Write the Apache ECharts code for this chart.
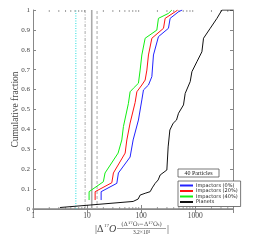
<!DOCTYPE html>
<html><head><meta charset="utf-8">
<script src="https://cdn.jsdelivr.net/npm/echarts@6/dist/echarts.min.js"></script>
<style>html,body{margin:0;padding:0;background:#fff}#c{width:258px;height:240px}</style>
</head><body><div id="c"></div>
<script>
// ---- data ----
const seriesNames = ["Impactors (0%)", "Impactors (20%)", "Impactors (40%)", "Planets"];
const blueX  = [18.2,18.2,35.5,38.0,62.5,71.1,89.1,103,110.4,136.6,157.8,169,209,320,344,491,574];
const blueY  = [0.045,0.087,0.129,0.181,0.261,0.347,0.447,0.548,0.598,0.623,0.665,0.774,0.866,0.908,0.958,0.991,1.0];
const redX   = [14.1,14.1,28.7,30.7,50.6,54.4,62.5,77.4,83.3,103,118.6,127.6,136.6,157.8,259,278,426,474];
const redY   = [0.045,0.087,0.132,0.181,0.281,0.347,0.432,0.535,0.589,0.623,0.648,0.698,0.774,0.858,0.908,0.958,0.991,1.0];
const greenX = [10.9,10.9,20.0,21.5,37.5,43.9,47.0,58.2,62.5,72.0,89.1,95.8,103,118.6,127.6,195,209,320,370];
const greenY = [0.045,0.087,0.137,0.181,0.281,0.347,0.414,0.531,0.589,0.607,0.632,0.698,0.774,0.858,0.866,0.899,0.958,0.983,1.0];
const planetX = [3.16,11.4,71.1,88,95.8,118.6,146.8,160,181.7,206.5,225,299,316,340,391,451,491,607,653,808,869,1074,1330,1425,1896,2524,3120,5000];
const planetY = [0.0075,0.020,0.038,0.050,0.070,0.079,0.087,0.106,0.129,0.146,0.171,0.196,0.312,0.397,0.431,0.447,0.481,0.523,0.581,0.640,0.690,0.740,0.790,0.858,0.908,0.958,1.0,1.0];
const refLineX = [6.2, 9.2, 12.2, 15.3];
const xTickLabels = [1, 10, 100, 1000];
const yTickLabels = [0,0.1,0.2,0.3,0.4,0.5,0.6,0.7,0.8,0.9,1];
const minorX = [2,3,4,5,6,7,8,9,20,30,40,50,60,70,80,90,200,300,400,500,600,700,800,900,2000,3000,4000];

const zip = (xs, ys) => xs.map((x, i) => [x, ys[i]]);
const serif = 'Liberation Serif';
const axisCol = '#888';
const textCol = '#444';

const chart = echarts.init(document.getElementById('c'), null, {renderer: 'canvas'});

const refStyles = [
  {color: '#22dddd', type: [1, 1.5], width: 1},
  {color: '#aaaaaa', type: [3, 1.5, 1, 1.5], width: 1},
  {color: '#aaaaaa', type: 'solid', width: 1.6},
  {color: '#aaaaaa', type: [3, 2], width: 1}
];
const refSeries = refLineX.map((v, i) => ({
  type: 'line', silent: true, symbol: 'none', animation: false,
  data: [[v, 0], [v, 1]], lineStyle: refStyles[i], z: 1
}));

function curve(name, xs, ys, color) {
  return {name, type: 'line', symbol: 'none', animation: false, data: zip(xs, ys),
    lineStyle: {color, width: 1}, itemStyle: {color}, z: 3};
}

const option = {
  animation: false,
  grid: {left: 33, top: 10, right: 25, bottom: 31, containLabel: false, outerBoundsMode: 'none'},
  xAxis: [
    {type: 'log', logBase: 10, min: 1, max: 5000, position: 'bottom',
     axisLine: {show: true, lineStyle: {color: axisCol, width: 1}},
     axisTick: {show: true, inside: true, length: 4, lineStyle: {color: axisCol}},
     splitLine: {show: false},
     axisLabel: {fontFamily: serif, fontSize: 7.5, color: textCol, margin: 3, showMinLabel: true,
       formatter: v => xTickLabels.includes(Math.round(v)) ? String(Math.round(v)) : ''}},
    {type: 'log', logBase: 10, min: 1, max: 5000, position: 'top',
     axisLine: {show: true, lineStyle: {color: axisCol, width: 1.5}},
     axisTick: {show: true, inside: true, length: 4, lineStyle: {color: axisCol}},
     splitLine: {show: false}, axisLabel: {show: false}}
  ],
  yAxis: [
    {type: 'value', min: 0, max: 1, interval: 0.1, position: 'left',
     axisLine: {show: true, lineStyle: {color: axisCol}},
     axisTick: {show: true, inside: true, length: 3, lineStyle: {color: axisCol}},
     splitLine: {show: false},
     axisLabel: {fontFamily: serif, fontSize: 7, color: textCol, margin: 3,
       formatter: v => String(yTickLabels.find(t => Math.abs(t - v) < 1e-6) ?? v)},
     name: 'Cumulative fraction', nameLocation: 'middle', nameGap: 12.5, nameMoveOverlap: false,
     nameTextStyle: {fontFamily: serif, fontSize: 9.5, color: textCol}},
    {type: 'value', min: 0, max: 1, interval: 0.1, position: 'right',
     axisLine: {show: true, lineStyle: {color: axisCol}},
     axisTick: {show: true, inside: true, length: 3, lineStyle: {color: axisCol}},
     splitLine: {show: false}, axisLabel: {show: false}}
  ],
  legend: {
    data: seriesNames, orient: 'vertical', left: 178, top: 181,
    itemWidth: 13, itemHeight: 2, itemGap: 0.5, icon: 'rect',
    padding: [2, 3, 2, 2], borderColor: '#555', borderWidth: 0.8, backgroundColor: '#fff',
    textStyle: {fontSize: 5, color: '#222', fontFamily: 'DejaVu Sans', padding: [0, 0, 0, -2]}
  },
  series: [
    ...refSeries,
    {type: 'custom', silent: true, animation: false, data: minorX.map(v => [v]),
     renderItem: (params, api) => {
       const v = api.value(0);
       const p0 = api.coord([v, 0]);
       const p1 = api.coord([v, 1]);
       const st = {stroke: axisCol, lineWidth: 0.8};
       return {type: 'group', children: [
         {type: 'line', shape: {x1: p0[0], y1: p0[1], x2: p0[0], y2: p0[1] - 2}, style: st},
         {type: 'line', shape: {x1: p1[0], y1: p1[1], x2: p1[0], y2: p1[1] + 2}, style: st}
       ]};
     }, z: 2},
    curve(seriesNames[0], blueX, blueY, '#2222ff'),
    curve(seriesNames[1], redX, redY, '#ff1111'),
    curve(seriesNames[2], greenX, greenY, '#11ee11'),
    curve(seriesNames[3], planetX, planetY, '#111111')
  ],
  graphic: [
    {type: 'rect', shape: {x: 178, y: 169, width: 41, height: 8}, style: {fill: '#fff', stroke: '#555', lineWidth: 0.8}, z: 10},
    {type: 'text', x: 198.5, y: 173.3, style: {text: '40 Particles', font: '6px "Liberation Serif"', fill: '#222', align: 'center', verticalAlign: 'middle'}, z: 11},
    {type: 'text', x: 95, y: 229, style: {text: '|Δ', font: '10px "Liberation Serif"', fill: textCol, align: 'left', verticalAlign: 'middle'}},
    {type: 'text', x: 104, y: 226, style: {text: '17', font: '5px "Liberation Serif"', fill: textCol, align: 'left', verticalAlign: 'middle'}},
    {type: 'text', x: 109, y: 229, style: {text: 'O', font: 'italic 10px "Liberation Serif"', fill: textCol, align: 'left', verticalAlign: 'middle'}},
    {type: 'text', x: 141.5, y: 224.5, style: {text: '(Δ¹⁷O\u1D62−Δ¹⁷O\u209C)', font: '6px "DejaVu Serif"', fill: textCol, align: 'center', verticalAlign: 'middle'}},
    {type: 'line', shape: {x1: 117, y1: 228.5, x2: 166, y2: 228.5}, style: {stroke: textCol, lineWidth: 0.5}},
    {type: 'text', x: 141.5, y: 232.5, style: {text: '3.2×10²', font: '5.5px "Liberation Serif"', fill: textCol, align: 'center', verticalAlign: 'middle'}},
    {type: 'text', x: 167, y: 229, style: {text: '|', font: '10px "Liberation Serif"', fill: textCol, align: 'left', verticalAlign: 'middle'}}
  ]
};
chart.setOption(option);
</script></body></html>
